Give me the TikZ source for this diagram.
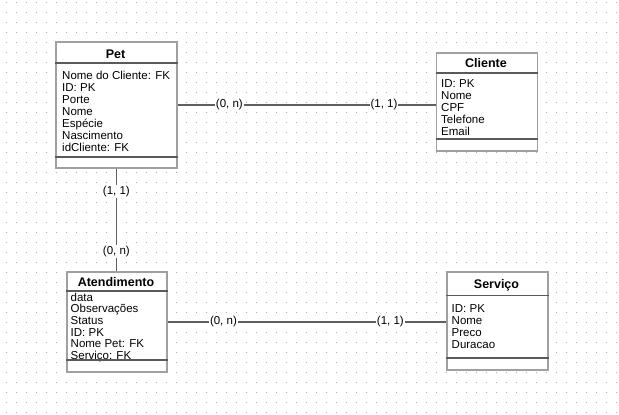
\documentclass[tikz,border=0pt]{standalone}
\usepackage{fontspec}
\setmainfont{Liberation Sans}
\usepackage{tikz}
\definecolor{boxgray}{RGB}{160, 160, 160}
\definecolor{sepgray}{RGB}{90, 90, 90}
\definecolor{linkgray}{RGB}{95, 95, 95}
\definecolor{dotgray}{RGB}{175, 175, 175}
\usetikzlibrary{positioning, calc}

\begin{document}
\begin{tikzpicture}[
    x=1pt, y=-1pt,
    entity/.style={draw=boxgray, line width=1.8pt, fill=white,
                   anchor=north west, inner sep=0pt},
    title/.style={font=\fontsize{12.5}{13}\selectfont\bfseries, inner sep=0pt},
    attrs/.style={font=\fontsize{11.5}{12}\selectfont, align=left,
                  anchor=north west, inner sep=0pt},
    divider/.style={draw=sepgray, line width=1.2pt},
    link/.style={draw=linkgray, line width=1.6pt},
    card/.style={font=\fontsize{11.5}{12}\selectfont, fill=white, inner sep=1pt}
]
    \useasboundingbox (0,0) rectangle (619,415);

    % Dotted background
    \foreach \y in {2,12,...,412}
        \draw[dotgray, line width=1pt, dash pattern=on 1pt off 9pt] (5.5,\y) -- (619,\y);

    % Entities
    \node[entity, minimum width=121pt, minimum height=126pt] (pet) at (55,41) {};
    \node[title] (pettitle) at (115.5,54) {Pet};
    \draw[divider] (pet.west |- 0,63) -- (pet.east |- 0,63);
    \draw[divider] (pet.west |- 0,157) -- (pet.east |- 0,157);
    \node[attrs] (petattrs) at (62,70.5) {
        Nome do Cliente: FK\\ ID: PK\\ Porte\\ Nome\\ Espécie\\ Nascimento\\ idCliente: FK
    };

    \node[entity, minimum width=101pt, minimum height=98pt] (cliente) at (435.5,52) {};
    \node[title] (clientetitle) at (486,63) {Cliente};
    \draw[divider] (cliente.west |- 0,73) -- (cliente.east |- 0,73);
    \draw[divider] (cliente.west |- 0,139) -- (cliente.east |- 0,139);
    \node[attrs] (clienteattrs) at (441,79) {
        ID: PK\\ Nome\\ CPF\\ Telefone\\ Email
    };

    \node[entity, minimum width=100pt, minimum height=100pt] (atend) at (66,271) {};
    \node[title] (atendtitle) at (116,282) {Atendimento};
    \draw[divider] (atend.west |- 0,291) -- (atend.east |- 0,291);
    \node[attrs, font=\fontsize{11.5}{11.7}\selectfont] (atendattrs) at (70.5,292.5) {
        data\\ Observações\\ Status\\ ID: PK\\ Nome Pet: FK\\ Serviço: FK
    };
    \draw[divider] (atend.west |- 0,360) -- (atend.east |- 0,360);

    \node[entity, minimum width=101pt, minimum height=98pt] (servico) at (446,271) {};
    \node[title] (servicotitle) at (496.5,285) {Serviço};
    \draw[divider] (servico.west |- 0,295.5) -- (servico.east |- 0,295.5);
    \draw[divider] (servico.west |- 0,358) -- (servico.east |- 0,358);
    \node[attrs] (servicoattrs) at (451.5,304) {
        ID: PK\\ Nome\\ Preco\\ Duracao
    };

    % Relationships
    \draw[link] (pet.east) -- (pet.east -| cliente.west)
        node[card, pos=0.2] {(0, n)}
        node[card, pos=0.8] {(1, 1)};
    \draw[link] (pet.south) -- (pet.south |- atend.north)
        node[card, pos=0.22] {(1, 1)}
        node[card, pos=0.81] {(0, n)};
    \draw[link] (atend.east) -- (atend.east -| servico.west)
        node[card, pos=0.2] {(0, n)}
        node[card, pos=0.8] {(1, 1)};
\end{tikzpicture}
\end{document}
